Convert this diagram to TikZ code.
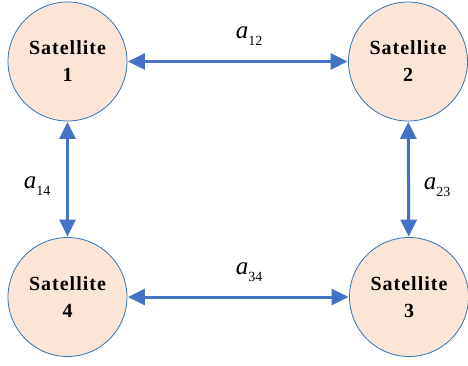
\documentclass[tikz,border=0pt]{standalone}
\usepackage{fontspec}
\setmainfont{Liberation Serif}
\usetikzlibrary{arrows.meta}
\definecolor{arrowblue}{HTML}{4472C4}
\definecolor{ringblue}{HTML}{2E75B6}
\definecolor{satfill}{HTML}{FBE5D6}
\begin{document}
\begin{tikzpicture}[x=1pt,y=1pt,
  sat/.style={circle, draw=ringblue, line width=0.8pt, fill=satfill, minimum size=119pt, inner sep=0pt,
    align=center, font=\fontsize{20}{27}\selectfont\bfseries\addfontfeature{LetterSpace=5}},
  link/.style={draw=arrowblue, line width=3pt, {Triangle[length=17pt,width=16pt]}-{Triangle[length=17pt,width=16pt]}, shorten <=0.5pt, shorten >=0.5pt},
  lbl/.style={font=\fontsize{25}{25}\selectfont, inner sep=0pt}]
\useasboundingbox (0,0) rectangle (468,-365);
\node[sat] (s1) at (67.5,-61.5) {Satellite\\1};
\node[sat] (s2) at (408,-61.5) {Satellite\\2};
\node[sat] (s4) at (67.5,-297) {Satellite\\4};
\node[sat] (s3) at (409,-297) {Satellite\\3};
\draw[link] (s1) -- (s2);
\draw[link] (s4) -- (s3);
\draw[link] (s1) -- (s4);
\draw[link] (s2) -- (s3);
\newcommand{\alab}[1]{\textit{a}\raisebox{-0.3em}{\fontsize{14}{14}\selectfont #1}}
\node[lbl] (l12) at (249,-36) {\alab{12}};
\node[lbl] (l34) at (249,-272) {\alab{34}};
\node[lbl] (l14) at (37,-186) {\alab{14}};
\node[lbl] (l23) at (437,-187) {\alab{23}};
\end{tikzpicture}
\end{document}
